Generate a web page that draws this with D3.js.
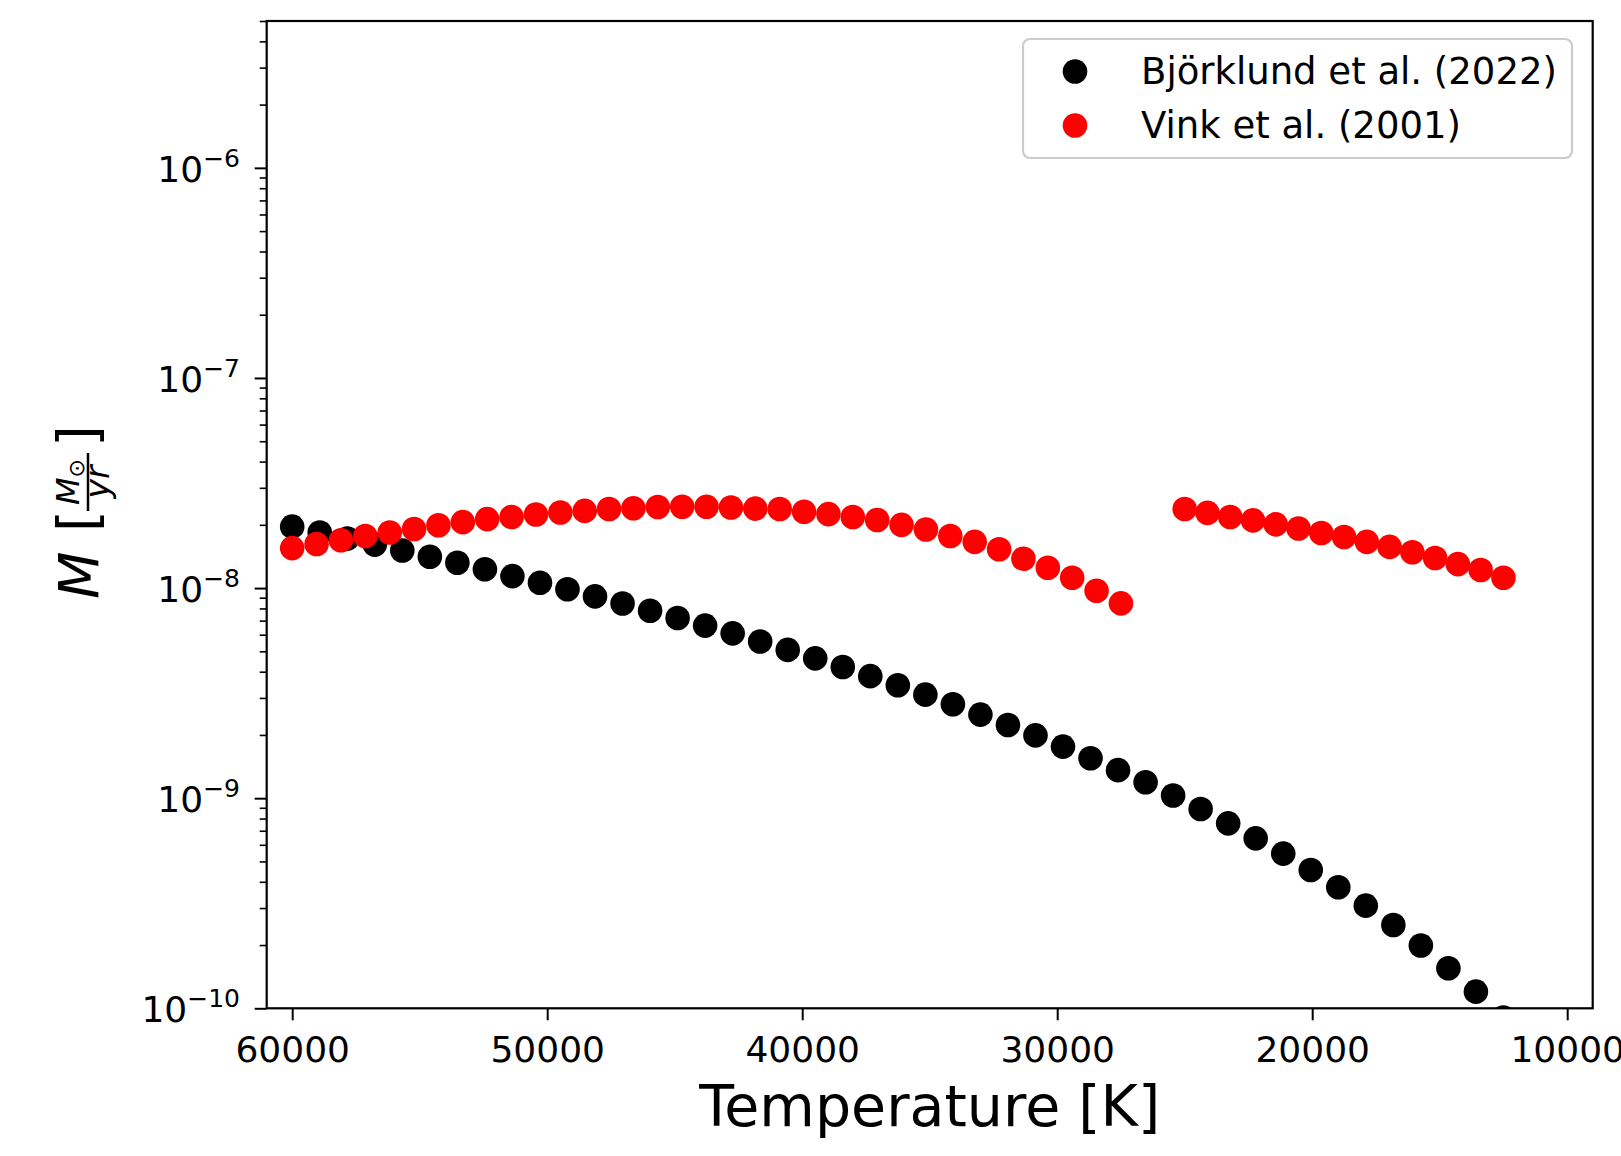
<!DOCTYPE html>
<html>
<head>
<meta charset="utf-8">
<script src="https://cdn.jsdelivr.net/npm/d3@7/dist/d3.min.js"></script>
<style>
  html, body { margin: 0; padding: 0; background: #fff; }
  svg { display: block; font-family: "DejaVu Sans", sans-serif; }
</style>
</head>
<body>
<svg id="chart" width="1621" height="1156"></svg>
<script>
// ---------------- data ----------------
const bjorklundT = [60000, 58920, 57841, 56761, 55682, 54602, 53523, 52443, 51364, 50284,
  49205, 48125, 47045, 45966, 44886, 43807, 42727, 41648, 40568, 39489,
  38409, 37330, 36250, 35170, 34091, 33011, 31932, 30852, 29773, 28693,
  27614, 26534, 25455, 24375, 23295, 22216, 21136, 20057, 18977, 17898,
  16818, 15739, 14659, 13580, 12500];
const bjorklundMdot = [1.96e-8, 1.84e-8, 1.72e-8, 1.61e-8, 1.51e-8, 1.41e-8, 1.32e-8, 1.23e-8, 1.14e-8, 1.06e-8,
  9.87e-9, 9.13e-9, 8.44e-9, 7.80e-9, 7.20e-9, 6.63e-9, 6.09e-9, 5.57e-9, 5.08e-9, 4.63e-9,
  4.21e-9, 3.81e-9, 3.45e-9, 3.11e-9, 2.80e-9, 2.50e-9, 2.23e-9, 1.99e-9, 1.76e-9, 1.55e-9,
  1.36e-9, 1.19e-9, 1.03e-9, 8.88e-10, 7.59e-10, 6.44e-10, 5.45e-10, 4.55e-10, 3.77e-10, 3.08e-10,
  2.49e-10, 1.99e-10, 1.55e-10, 1.20e-10, 9.04e-11];

const vinkHotT = [60000, 59044, 58088, 57132, 56176, 55221, 54265, 53309, 52353, 51397,
  50441, 49485, 48529, 47574, 46618, 45662, 44706, 43750, 42794, 41838,
  40882, 39926, 38971, 38015, 37059, 36103, 35147, 34191, 33235, 32279,
  31324, 30368, 29412, 28456, 27500];
const vinkHotMdot = [1.55e-8, 1.62e-8, 1.69e-8, 1.77e-8, 1.84e-8, 1.91e-8, 1.99e-8, 2.06e-8, 2.13e-8, 2.18e-8,
  2.24e-8, 2.29e-8, 2.33e-8, 2.38e-8, 2.40e-8, 2.43e-8, 2.44e-8, 2.44e-8, 2.42e-8, 2.39e-8,
  2.38e-8, 2.31e-8, 2.25e-8, 2.18e-8, 2.11e-8, 2.00e-8, 1.90e-8, 1.77e-8, 1.66e-8, 1.53e-8,
  1.38e-8, 1.25e-8, 1.12e-8, 9.71e-9, 8.46e-9];

const vinkCoolT = [25000, 24107, 23214, 22321, 21429, 20536, 19643, 18750, 17857, 16964,
  16071, 15179, 14286, 13393, 12500];
const vinkCoolMdot = [2.38e-8, 2.28e-8, 2.18e-8, 2.10e-8, 2.01e-8, 1.92e-8, 1.83e-8, 1.75e-8, 1.66e-8, 1.57e-8,
  1.48e-8, 1.39e-8, 1.30e-8, 1.22e-8, 1.12e-8];

const xTicks = [60000, 50000, 40000, 30000, 20000, 10000];
const yMajorExp = [-10, -9, -8, -7, -6];
const legendLabels = ["Björklund et al. (2022)", "Vink et al. (2001)"];
const seriesColors = ["#000000", "#ff0000"];

// ---------------- layout ----------------
const L = 266.7, R = 1592.7, T = 21, B = 1008.3;
const svg = d3.select("#chart");

const x = d3.scaleLinear().domain([61000, 9000]).range([L, R]);
const y = d3.scaleLog().domain([1e-10, 5e-6]).range([B, T]);

svg.append("defs").append("clipPath").attr("id", "plotclip")
  .append("rect").attr("x", L).attr("y", T).attr("width", R - L).attr("height", B - T);

const pts = svg.append("g").attr("clip-path", "url(#plotclip)");
const r = 12.3;

const bj = bjorklundT.map((t, i) => ({t, m: bjorklundMdot[i]}));
const vk = vinkHotT.map((t, i) => ({t, m: vinkHotMdot[i]}))
  .concat(vinkCoolT.map((t, i) => ({t, m: vinkCoolMdot[i]})));

pts.selectAll("circle.bj").data(bj).enter().append("circle")
  .attr("cx", d => x(d.t)).attr("cy", d => y(d.m)).attr("r", r).attr("fill", seriesColors[0]);
pts.selectAll("circle.vk").data(vk).enter().append("circle")
  .attr("cx", d => x(d.t)).attr("cy", d => y(d.m)).attr("r", r).attr("fill", seriesColors[1]);

// ---------------- axes ----------------
const xAxis = d3.axisBottom(x).tickValues(xTicks).tickSize(12).tickPadding(15).tickFormat(d3.format("d"));
const gx = svg.append("g").attr("transform", `translate(0,${B})`).call(xAxis);
gx.select(".domain").remove();
gx.selectAll(".tick line").attr("stroke", "#000").attr("stroke-width", 2);
gx.selectAll(".tick text").attr("fill", "#000").attr("font-size", 36)
  .attr("font-family", "DejaVu Sans").attr("dy", null).attr("y", 53.4);

const majors = yMajorExp.map(e => Math.pow(10, e));
const minors = [];
for (let e = -10; e <= -6; e++) {
  for (let k = 2; k <= 9; k++) {
    const v = k * Math.pow(10, e);
    if (v <= 5.0001e-6) minors.push(v);
  }
}
const gyMin = svg.append("g").attr("transform", `translate(${L},0)`)
  .call(d3.axisLeft(y).tickValues(minors).tickSize(7).tickFormat(""));
gyMin.select(".domain").remove();
gyMin.selectAll(".tick line").attr("stroke", "#000").attr("stroke-width", 1.6);

const gyMaj = svg.append("g").attr("transform", `translate(${L},0)`)
  .call(d3.axisLeft(y).tickValues(majors).tickSize(12).tickFormat(""));
gyMaj.select(".domain").remove();
gyMaj.selectAll(".tick line").attr("stroke", "#000").attr("stroke-width", 2);

const ylab = svg.append("g");
yMajorExp.forEach(e => {
  const t = ylab.append("text").attr("x", 240).attr("y", y(Math.pow(10, e)) + 14)
    .attr("text-anchor", "end").attr("fill", "#000");
  t.append("tspan").attr("font-size", 36).text("10");
  t.append("tspan").attr("font-size", 25).attr("dy", -15).text("\u2212" + Math.abs(e));
});

// frame
svg.append("rect").attr("x", L).attr("y", T).attr("width", R - L).attr("height", B - T)
  .attr("fill", "none").attr("stroke", "#000").attr("stroke-width", 2.2);

// x label
svg.append("text").attr("x", (L + R) / 2).attr("y", 1126).attr("text-anchor", "middle")
  .attr("font-size", 57).attr("fill", "#000").text("Temperature [K]");

// y label (rotated)
const yl = svg.append("g").attr("transform", "translate(80,515) rotate(-90)");
yl.append("text").attr("x", -84).attr("y", 18).attr("font-size", 55).attr("font-style", "italic").text("M");
yl.append("text").attr("x", -17).attr("y", 17).attr("font-size", 56).text("[");
yl.append("line").attr("x1", 4).attr("x2", 62).attr("y1", 8).attr("y2", 8).attr("stroke", "#000").attr("stroke-width", 2.5);
const num = yl.append("text").attr("x", 33).attr("y", -1).attr("font-size", 32).attr("text-anchor", "middle");
num.append("tspan").attr("font-style", "italic").text("M");
num.append("tspan").attr("font-size", 22).attr("dy", 5).text("\u2299");
yl.append("text").attr("x", 33).attr("y", 29).attr("font-size", 33).attr("font-style", "italic")
  .attr("text-anchor", "middle").text("yr");
yl.append("text").attr("x", 68).attr("y", 17).attr("font-size", 56).text("]");

// legend
const lg = svg.append("g");
lg.append("rect").attr("x", 1023).attr("y", 39).attr("width", 549).attr("height", 119)
  .attr("rx", 7).attr("ry", 7).attr("fill", "#fff").attr("fill-opacity", 0.8)
  .attr("stroke", "#cccccc").attr("stroke-width", 2.2);
const legRows = [71.5, 125.5];
legendLabels.forEach((lab, i) => {
  lg.append("circle").attr("cx", 1075).attr("cy", legRows[i]).attr("r", r).attr("fill", seriesColors[i]);
  lg.append("text").attr("x", 1141).attr("y", legRows[i] + 12).attr("font-size", 37)
    .attr("fill", "#000").text(lab);
});
</script>
</body>
</html>
